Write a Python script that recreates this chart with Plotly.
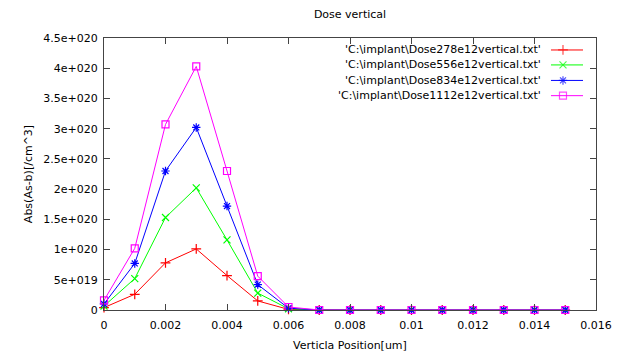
import plotly.graph_objects as go

x_pos = [0, 0.001, 0.002, 0.003, 0.004, 0.005, 0.006, 0.007, 0.008, 0.009, 0.010, 0.011, 0.012, 0.013, 0.014, 0.015]
dose278 = [4e18, 2.6e19, 7.8e19, 1.01e20, 5.7e19, 1.5e19, 1e18, 0, 0, 0, 0, 0, 0, 0, 0, 0]
dose556 = [6.6e18, 5.2e19, 1.53e20, 2.02e20, 1.16e20, 2.8e19, 2e18, 0, 0, 0, 0, 0, 0, 0, 0, 0]
dose834 = [1e19, 7.7e19, 2.3e20, 3.02e20, 1.72e20, 4.2e19, 3e18, 0, 0, 0, 0, 0, 0, 0, 0, 0]
dose1112 = [1.6e19, 1.02e20, 3.07e20, 4.03e20, 2.3e20, 5.6e19, 5e18, 0, 0, 0, 0, 0, 0, 0, 0, 0]

names = ["'C:\\implant\\Dose278e12vertical.txt'",
         "'C:\\implant\\Dose556e12vertical.txt'",
         "'C:\\implant\\Dose834e12vertical.txt'",
         "'C:\\implant\\Dose1112e12vertical.txt'"]
colors = ["#ff0000", "#00ff00", "#0000ff", "#ff00ff"]
symbols = ["cross-thin-open", "x-thin-open", "asterisk-open", "square-open"]
sizes = [7, 7, 7, 7]

y_tickvals = [0, 5e19, 1e20, 1.5e20, 2e20, 2.5e20, 3e20, 3.5e20, 4e20, 4.5e20]
y_ticktext = ["0", "5e+019", "1e+020", "1.5e+020", "2e+020", "2.5e+020", "3e+020", "3.5e+020", "4e+020", "4.5e+020"]
x_tickvals = [0, 0.002, 0.004, 0.006, 0.008, 0.010, 0.012, 0.014, 0.016]
x_ticktext = ["0", "0.002", "0.004", "0.006", "0.008", "0.01", "0.012", "0.014", "0.016"]

FONT = "DejaVu Sans"
FSIZE = 11
fig = go.Figure()
series = [dose278, dose556, dose834, dose1112]
for ys, c, s, sz in zip(series, colors, symbols, sizes):
    fig.add_trace(go.Scatter(x=x_pos, y=ys, mode="lines+markers",
                             line=dict(color=c, width=1),
                             marker=dict(symbol=s, size=sz, color=c, line=dict(color=c, width=1.2)),
                             cliponaxis=False, showlegend=False))

# custom gnuplot-style legend (text right, sample on the right)
leg_rows = [0.956, 0.901, 0.844, 0.788]
annotations = []
for nm, c, s, sz, yr in zip(names, colors, symbols, sizes, leg_rows):
    fig.add_trace(go.Scatter(x=[0.9085, 0.9329, 0.9736], y=[yr, yr, yr], mode="lines+markers",
                             xaxis="x2", yaxis="y2",
                             line=dict(color=c, width=1),
                             marker=dict(symbol=s, size=[0, sz, 0], color=c, line=dict(color=c, width=1.2)),
                             showlegend=False, hoverinfo="skip", cliponaxis=False))
    annotations.append(dict(x=0.892, y=yr, xref="paper", yref="paper", text=nm,
                            showarrow=False, xanchor="right", yanchor="middle",
                            font=dict(family=FONT, size=FSIZE, color="#000")))

fig.update_layout(
    width=627, height=355,
    margin=dict(l=104, r=31, t=38, b=45, autoexpand=False),
    paper_bgcolor="white", plot_bgcolor="white",
    font=dict(family=FONT, size=FSIZE, color="#000"),
    title=dict(text="Dose vertical", x=0.5, xref="paper", xanchor="center", y=0.96, yanchor="middle",
               font=dict(family=FONT, size=FSIZE, color="#000")),
    xaxis=dict(range=[0, 0.016], tickvals=x_tickvals, ticktext=x_ticktext, automargin=False,
               ticks="inside", ticklen=6, tickcolor="#444", mirror="ticks", ticklabelstandoff=5,
               showline=True, linecolor="#444", linewidth=1, showgrid=False, zeroline=False,
               tickfont=dict(family=FONT, size=FSIZE),
               title=dict(text="Verticla Position[um]", standoff=10, font=dict(family=FONT, size=FSIZE))),
    yaxis=dict(range=[0, 4.5e20], tickvals=y_tickvals, ticktext=y_ticktext, automargin=False,
               ticks="inside", ticklen=6, tickcolor="#444", mirror="ticks", ticklabelstandoff=3,
               showline=True, linecolor="#444", linewidth=1, showgrid=False, zeroline=False,
               tickfont=dict(family=FONT, size=FSIZE),
               title=dict(text="Abs(As-b)[/cm^3]", standoff=8, font=dict(family=FONT, size=FSIZE))),
    xaxis2=dict(range=[0, 1], overlaying="x", visible=False, fixedrange=True),
    yaxis2=dict(range=[0, 1], overlaying="y", visible=False, fixedrange=True),
    annotations=annotations,
)

fig.write_html("out.html", config={"displayModeBar": False},
               post_script="document.body.style.margin='0';document.body.style.overflow='hidden';")
